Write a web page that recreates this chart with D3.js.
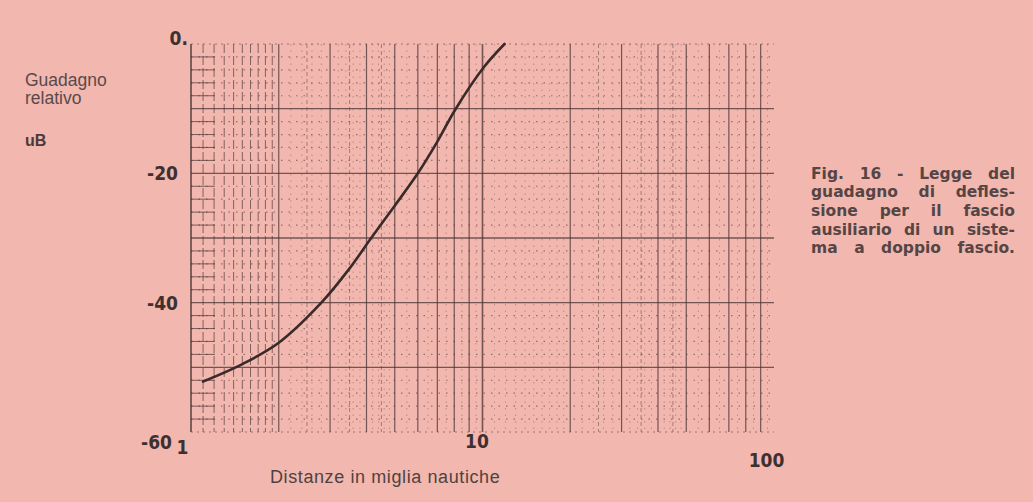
<!DOCTYPE html>
<html>
<head>
<meta charset="utf-8">
<script src="https://cdn.jsdelivr.net/npm/d3@7"></script>
<style>
  body { margin: 0; background: #f2b7ae; }
  svg { display: block; }
</style>
</head>
<body>
<div class="container"></div>
<script>
// curve: distance (nautical miles) -> relative gain (dB)
var distanze = [1.1, 1.5, 2, 2.8, 3.5, 4.15, 5, 6, 7, 8.05, 10.1, 11.9];
var guadagno = [-52.2, -49.5, -46.2, -40, -34.7, -30, -25, -20, -15.1, -10.2, -3.6, 0];

var yTicks = [0, -20, -40, -60];
var xTicks = [1, 10, 100];
var didascalia = ['Fig. 16 - Legge del', 'guadagno di defles-', 'sione per il fascio',
                  'ausiliario di un siste-', 'ma a doppio fascio.'];

var ink = '#4a3434';
var numFont = '"Liberation Sans Narrow", "DejaVu Sans Condensed", sans-serif';
var textFont = '"Liberation Sans", Arial, sans-serif';

var svg = d3.select('.container')
            .append('svg')
                .attr('width', 1033)
                .attr('height', 502);

var x = d3.scaleLog().domain([1, 100]).range([191, 774]);
var y = d3.scaleLinear().domain([-60, 0]).range([432, 44]);

var grid = svg.append('g');

// vertical lines of the log paper
var major = [], strip = [], half = [], minor = [];
[1, 10].forEach(function(dec) {
    for (var k = 2; k <= 9; k++) major.push(k * dec);
    for (var k = 1.1; k < 1.95; k += 0.1) (dec === 1 ? strip : minor).push(+(k * dec).toFixed(2));
    [2.5, 3.5, 4.5].forEach(function(v) { half.push(v * dec); });
    [2.2, 2.4, 2.6, 2.8, 3.2, 3.4, 3.6, 3.8, 4.2, 4.4, 4.6, 4.8, 5.5, 6.5, 7.5, 8.5, 9.5]
        .forEach(function(v) { minor.push(+(v * dec).toFixed(2)); });
});
major.push(10);
major = major.filter(function(v) { return v < 100; });

grid.selectAll('line.minor-v')
    .data(minor)
    .enter().append('line')
        .attr('x1', d => x(d)).attr('x2', d => x(d))
        .attr('y1', y(0)).attr('y2', y(-60))
        .style('stroke', ink).style('stroke-width', 0.8)
        .style('stroke-dasharray', '1.5,5').style('opacity', 0.4);

grid.selectAll('line.half-v')
    .data(half)
    .enter().append('line')
        .attr('x1', d => x(d)).attr('x2', d => x(d))
        .attr('y1', y(0)).attr('y2', y(-60))
        .style('stroke', ink).style('stroke-width', 0.9)
        .style('stroke-dasharray', '4,3').style('opacity', 0.5);

grid.selectAll('line.strip-v')
    .data(strip)
    .enter().append('line')
        .attr('x1', d => x(d)).attr('x2', d => x(d))
        .attr('y1', y(0)).attr('y2', y(-60))
        .style('stroke', ink).style('stroke-width', 1)
        .style('stroke-dasharray', '9,3').style('opacity', 0.65);

grid.selectAll('line.major-v')
    .data(major)
    .enter().append('line')
        .attr('x1', d => x(d)).attr('x2', d => x(d))
        .attr('y1', y(0)).attr('y2', y(-60))
        .style('stroke', ink).style('stroke-width', d => d === 10 ? 1.6 : 1.2)
        .style('opacity', 0.75);

// horizontal lines: every 2 dB dotted, every 10 dB solid
var hMinor = d3.range(-58, 0, 2).filter(function(v) { return v % 10 !== 0; });
var hMajor = [-10, -20, -30, -40, -50];

grid.selectAll('line.minor-h')
    .data(hMinor)
    .enter().append('line')
        .attr('x1', x(1)).attr('x2', x(100))
        .attr('y1', d => y(d)).attr('y2', d => y(d))
        .style('stroke', ink).style('stroke-width', 1.2)
        .style('stroke-dasharray', '1.5,6').style('opacity', 0.55);

grid.selectAll('line.minor-h-strip')
    .data(hMinor)
    .enter().append('line')
        .attr('x1', x(1)).attr('x2', x(1.2))
        .attr('y1', d => y(d)).attr('y2', d => y(d))
        .style('stroke', ink).style('stroke-width', 1).style('opacity', 0.7);

grid.selectAll('line.major-h')
    .data(hMajor)
    .enter().append('line')
        .attr('x1', x(1)).attr('x2', x(100))
        .attr('y1', d => y(d)).attr('y2', d => y(d))
        .style('stroke', ink).style('stroke-width', 1.4).style('opacity', 0.75);

// frame: solid left, dotted top and bottom
grid.append('line')
    .attr('x1', x(1)).attr('x2', x(1)).attr('y1', y(0)).attr('y2', y(-60))
    .style('stroke', ink).style('stroke-width', 1.6).style('opacity', 0.85);
[0, -60].forEach(function(v) {
    grid.append('line')
        .attr('x1', x(1)).attr('x2', x(100)).attr('y1', y(v)).attr('y2', y(v))
        .style('stroke', ink).style('stroke-width', 1)
        .style('stroke-dasharray', '2,4').style('opacity', 0.5);
});

// the gain curve
var punti = distanze.map(function(d, i) { return [d, guadagno[i]]; });
var linea = d3.line()
    .x(d => x(d[0]))
    .y(d => y(d[1]))
    .curve(d3.curveCatmullRom.alpha(0.5));

svg.append('path')
    .datum(punti)
    .attr('d', linea)
    .style('fill', 'none')
    .style('stroke', '#3a2a2a')
    .style('stroke-width', 2.6)
    .style('stroke-linecap', 'round');

// axes, only the labels are kept
var yAxis = svg.append('g')
    .attr('transform', 'translate(' + x(1) + ',0)')
    .call(d3.axisLeft(y).tickValues(yTicks).tickSize(0).tickPadding(13)
        .tickFormat(d => d === 0 ? '0.' : String(d)));
yAxis.select('.domain').remove();
yAxis.selectAll('text')
    .style('font-family', numFont).style('font-size', '19px').style('font-weight', 'bold')
    .style('fill', '#3e3030')
    .attr('dy', d => d === 0 ? '0' : d === -60 ? '0.85em' : '0.35em')
    .attr('x', d => d === 0 ? -3 : d === -60 ? -19 : -13);

var xAxis = svg.append('g')
    .attr('transform', 'translate(0,' + y(-60) + ')')
    .call(d3.axisBottom(x).tickValues(xTicks).tickSize(0).tickFormat(d3.format('d')));
xAxis.select('.domain').remove();
xAxis.selectAll('text')
    .style('font-family', numFont).style('font-size', '19px').style('font-weight', 'bold')
    .style('fill', '#3e3030')
    .attr('y', d => d === 1 ? 9 : d === 10 ? 2 : 22)
    .attr('x', d => d === 1 ? -9 : d === 10 ? -6 : -8);

svg.append('text')
    .attr('x', 270).attr('y', 483)
    .style('font-family', textFont)
    .style('font-size', '18px').style('letter-spacing', '0.6px').style('fill', '#4f4242')
    .text('Distanze in miglia nautiche');

// y title on the left
var titolo = svg.append('g')
    .style('font-family', textFont)
    .style('font-size', '17.5px').style('fill', '#5a4a4a');
titolo.append('text').attr('x', 25).attr('y', 86).text('Guadagno');
titolo.append('text').attr('x', 25).attr('y', 104).text('relativo');
titolo.append('text').attr('x', 25).attr('y', 146)
    .style('font-weight', 'bold').style('font-size', '16px').style('fill', '#4a3a3a').text('uB');

// caption on the right, justified by spreading the words
var capLeft = 811, capRight = 1015;
var capt = svg.append('g')
    .style('font-family', '"DejaVu Sans", Verdana, sans-serif')
    .style('font-size', '15.5px').style('font-weight', 'bold').style('fill', '#554545');
didascalia.forEach(function(riga, i) {
    var t = capt.append('text').attr('y', 178.5 + i * 18.7);
    var parole = riga.split(' ');
    var spans = parole.map(function(p) { return t.append('tspan').text(p); });
    var larghezze = spans.map(function(s) { return s.node().getComputedTextLength(); });
    var gap = (capRight - capLeft - d3.sum(larghezze)) / (parole.length - 1);
    var cx = capLeft;
    spans.forEach(function(s, j) {
        s.attr('x', cx);
        cx += larghezze[j] + gap;
    });
});
</script>
</body>
</html>
